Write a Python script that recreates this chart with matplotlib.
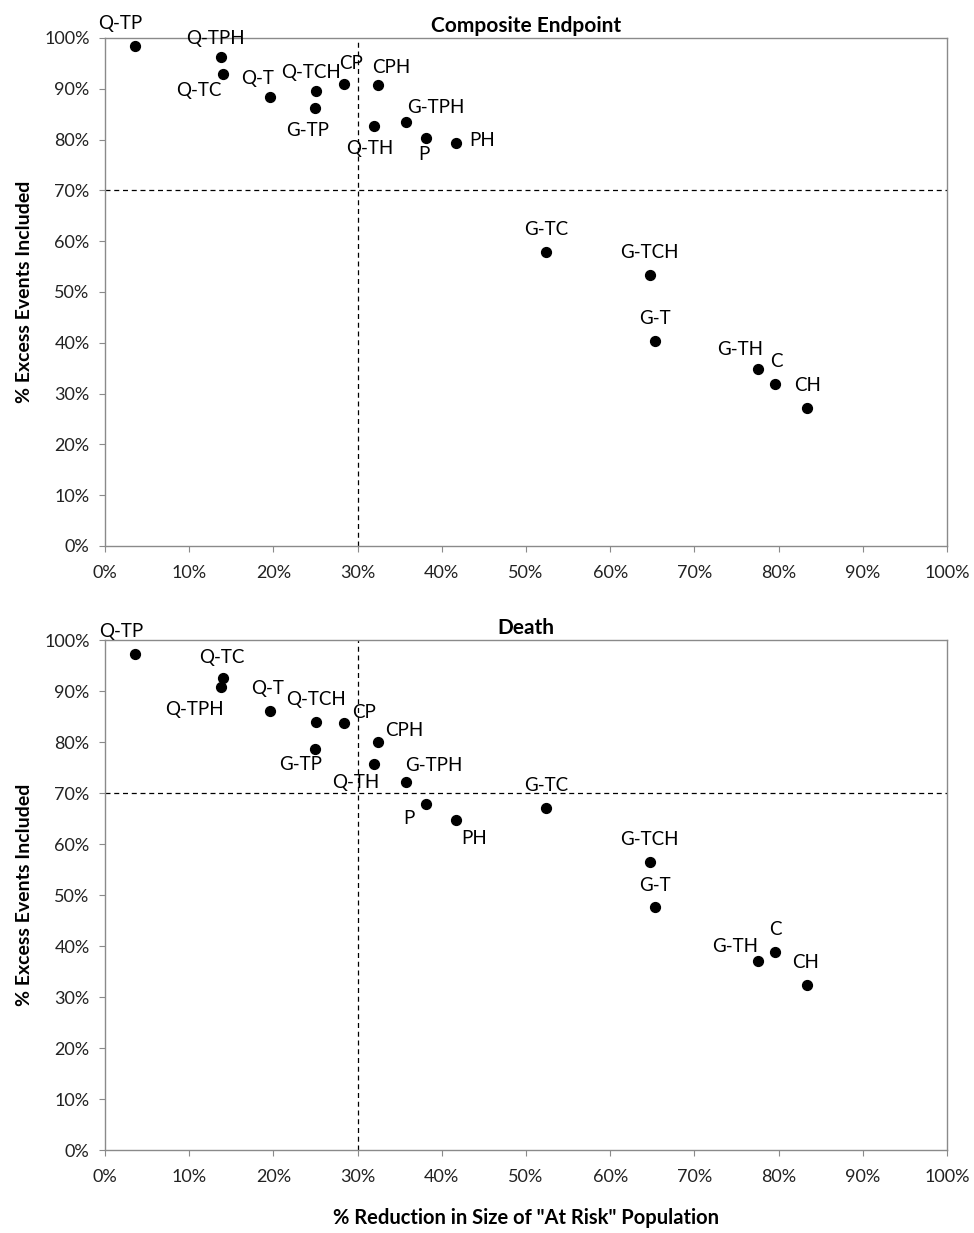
import matplotlib
matplotlib.use("Agg")
import matplotlib.pyplot as plt
from matplotlib.ticker import PercentFormatter, MultipleLocator

plt.rcParams['font.family'] = ['Lato', 'DejaVu Sans']

labels = ["Q-TP", "Q-TPH", "Q-TC", "Q-T", "Q-TCH", "G-TP", "CP", "CPH", "Q-TH",
          "G-TPH", "P", "PH", "G-TC", "G-TCH", "G-T", "G-TH", "C", "CH"]

# % reduction in size of "at risk" population (same for both panels)
reduction = [3.6, 13.8, 14.0, 19.6, 25.1, 24.9, 28.4, 32.4, 31.9,
             35.7, 38.1, 41.7, 52.4, 64.7, 65.3, 77.6, 79.6, 83.4]

# % excess events included
composite = [98.4, 96.3, 92.9, 88.4, 89.6, 86.2, 90.9, 90.7, 82.7,
             83.5, 80.3, 79.3, 57.9, 53.3, 40.4, 34.8, 31.9, 27.2]
death = [97.3, 90.8, 92.5, 86.1, 83.9, 78.6, 83.7, 80.0, 75.7,
         72.2, 67.8, 64.7, 67.1, 56.5, 47.6, 37.1, 38.8, 32.4]

# label offsets in points (layout only)
off_top = {"Q-TP": (-11, 16), "Q-TPH": (-4, 13), "Q-TC": (-17, -12), "Q-T": (-9, 13),
           "Q-TCH": (-4, 13), "G-TP": (-5, -16), "CP": (5, 15), "CPH": (10, 13),
           "Q-TH": (-3, -16), "G-TPH": (22, 10), "P": (-1, -12), "PH": (19, 2),
           "G-TC": (0, 16), "G-TCH": (0, 16), "G-T": (0, 16), "G-TH": (-13, 14),
           "C": (1, 16), "CH": (0, 16)}
off_bot = {"Q-TP": (-10, 16), "Q-TC": (-1, 15), "Q-TPH": (-19, -16), "Q-T": (-2, 16),
           "Q-TCH": (0, 16), "CP": (14, 8), "CPH": (19, 8), "G-TP": (-10, -11),
           "Q-TH": (-13, -13), "G-TPH": (20, 12), "P": (-12, -10), "PH": (13, -13),
           "G-TC": (0, 16), "G-TCH": (0, 16), "G-T": (0, 16), "G-TH": (-17, 10),
           "C": (0, 16), "CH": (-1, 16)}

fig = plt.figure(figsize=(9.74, 12.33), dpi=100)
ax1 = fig.add_axes([0.1078, 0.5572, 0.8645, 0.4120])
ax2 = fig.add_axes([0.1078, 0.0673, 0.8645, 0.4136])

def draw(ax, yvals, offs, title):
    ax.scatter(reduction, yvals, s=50, color='black', zorder=3, clip_on=False)
    for lab, x, y in zip(labels, reduction, yvals):
        dx, dy = offs[lab]
        ax.annotate(lab, (x, y), xytext=(dx, dy), textcoords='offset points',
                    ha='center', va='center', fontsize=13.5, color='black',
                    annotation_clip=False)
    ax.axvline(30, color='black', linestyle=(0, (4, 3)), linewidth=0.9, zorder=1)
    ax.axhline(70, color='black', linestyle=(0, (4, 3)), linewidth=0.9, zorder=1)
    ax.set_xlim(0, 100)
    ax.set_ylim(0, 100)
    ax.xaxis.set_major_locator(MultipleLocator(10))
    ax.yaxis.set_major_locator(MultipleLocator(10))
    ax.xaxis.set_major_formatter(PercentFormatter(decimals=0))
    ax.yaxis.set_major_formatter(PercentFormatter(decimals=0))
    for sp in ax.spines.values():
        sp.set_color('#8a8a8a')
        sp.set_linewidth(1.0)
    ax.tick_params(axis='both', colors='#8a8a8a', labelcolor='#222222',
                   labelsize=13, length=4, width=0.8)
    ax.tick_params(axis='x', pad=10)
    ax.tick_params(axis='y', pad=7)
    ax.set_title(title, fontsize=15, fontweight='bold', pad=4)
    ax.set_ylabel("% Excess Events Included", fontsize=14, fontweight='bold', labelpad=8)

draw(ax1, composite, off_top, "Composite Endpoint")
draw(ax2, death, off_bot, "Death")
ax2.set_xlabel('% Reduction in Size of "At Risk" Population', fontsize=14.5,
               fontweight='bold', labelpad=16)

fig.savefig("out.png", dpi=100)
